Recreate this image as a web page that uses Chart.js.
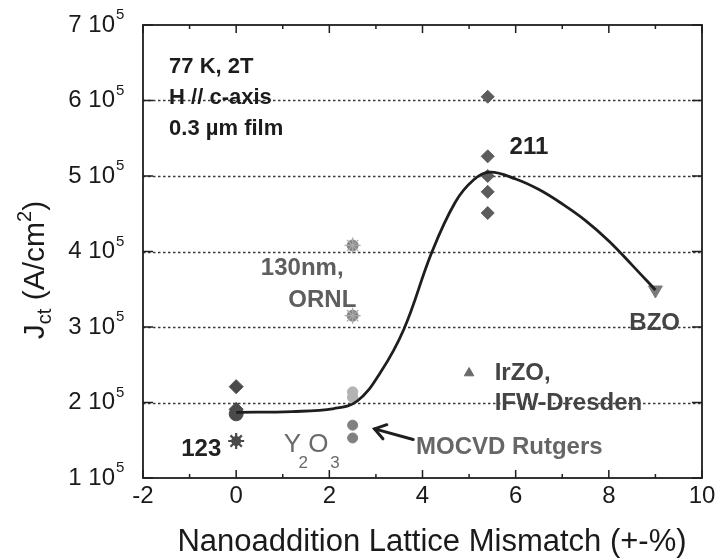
<!DOCTYPE html>
<html>
<head>
<meta charset="utf-8">
<script src="https://cdn.jsdelivr.net/npm/chart.js@4.4.0/dist/chart.umd.min.js"></script>
<style>
  html, body { margin: 0; padding: 0; background: #fff; }
  #wrap { width: 717px; height: 558px; }
</style>
</head>
<body>
<div id="wrap"><canvas id="c" width="717" height="558"></canvas></div>
<script>
// Jc (units of 10^5 A/cm^2) versus nanoaddition lattice mismatch (%)
const xTicks = [-2, 0, 2, 4, 6, 8, 10];
const yTicks = [1, 2, 3, 4, 5, 6, 7];
const UNIT = 1e5;

// guide-to-the-eye fit curve
const fitX = [0, 1.2, 2.1, 2.6, 3.1, 3.6, 4.2, 4.7, 5.1, 5.45, 6.0, 6.5, 7.0, 7.5, 8.0, 8.5, 9.0];
const fitY = [1.87, 1.88, 1.92, 2.02, 2.40, 2.97, 3.99, 4.65, 4.95, 5.05, 4.96, 4.82, 4.63, 4.41, 4.14, 3.82, 3.49];

// pure 123 films (0 % mismatch)
const pureX = 0;
const pureDiamonds = [2.21, 1.91];
const pureCircles = [1.85];
const pureStars = [1.49];

// Y2O3 additions (2.5 % mismatch)
const y2o3X = 2.5;
const ornlValues = [4.08, 3.15];
const y2o3Light = [2.07, 2.14];
const rutgersValues = [1.70, 1.53];

// 211 additions (5.4 % mismatch)
const x211 = 5.4;
const values211 = [6.05, 5.26, 5.00, 4.79, 4.51];

// BZO and IrZO
const bzoX = [9.0];
const bzoY = [3.49];
const irzoX = [5.0];
const irzoY = [2.39];

const pts = (xs, ys) => ys.map((y, i) => ({ x: Array.isArray(xs) ? xs[i] : xs, y: y * UNIT }));
const FONT = '"Liberation Sans", Arial, Helvetica, sans-serif';

const frameAndLabels = {
  id: 'frameAndLabels',
  beforeDatasetsDraw(chart) {
    const { ctx, chartArea: a, scales: { y } } = chart;
    ctx.save();
    ctx.strokeStyle = '#3a3a3a';
    ctx.lineWidth = 1.5;
    ctx.setLineDash([2.5, 2.5]);
    yTicks.forEach(v => {
      if (v === yTicks[0] || v === yTicks[yTicks.length - 1]) return;
      const py = Math.round(y.getPixelForValue(v * UNIT)) + 0.5;
      ctx.beginPath(); ctx.moveTo(a.left, py); ctx.lineTo(a.right, py); ctx.stroke();
    });
    ctx.restore();
  },
  afterDatasetsDraw(chart) {
    const { ctx, chartArea: a, scales: { x, y } } = chart;
    const X = v => x.getPixelForValue(v);
    const Y = v => y.getPixelForValue(v * UNIT);
    ctx.save();
    // frame
    ctx.strokeStyle = '#1e1e1e';
    ctx.lineWidth = 1.8;
    ctx.strokeRect(a.left, a.top, a.right - a.left, a.bottom - a.top);
    // x ticks (major even, minor odd), bottom and top, pointing inwards
    ctx.lineWidth = 1.5;
    for (let v = xTicks[0]; v <= xTicks[xTicks.length - 1]; v++) {
      const px = X(v);
      const len = (v % 2 === 0) ? 8 : 4;
      ctx.beginPath();
      ctx.moveTo(px, a.bottom); ctx.lineTo(px, a.bottom - len);
      ctx.moveTo(px, a.top); ctx.lineTo(px, a.top + len);
      ctx.stroke();
    }
    // y ticks left and right
    yTicks.forEach(v => {
      const py = Y(v);
      ctx.beginPath();
      ctx.moveTo(a.left, py); ctx.lineTo(a.left + 10, py);
      ctx.moveTo(a.right, py); ctx.lineTo(a.right - 10, py);
      ctx.stroke();
    });

    ctx.fillStyle = '#1a1a1a';
    // x tick labels
    ctx.font = `24px ${FONT}`;
    ctx.textAlign = 'center';
    ctx.textBaseline = 'top';
    xTicks.forEach(v => ctx.fillText(String(v), X(v), a.bottom + 6));
    // y tick labels "n 10^5"
    yTicks.forEach(v => {
      const py = Y(v);
      ctx.font = `24px ${FONT}`;
      ctx.textAlign = 'right';
      ctx.textBaseline = 'middle';
      ctx.fillText(`${v} 10`, a.left - 28, py);
      ctx.font = `15px ${FONT}`;
      ctx.textAlign = 'left';
      ctx.fillText('5', a.left - 27, py - 10);
    });

    // x axis title
    ctx.font = `31px ${FONT}`;
    ctx.textAlign = 'center';
    ctx.textBaseline = 'alphabetic';
    ctx.fillText('Nanoaddition Lattice Mismatch (+-%)', 432, 551);

    // y axis title, rotated
    ctx.save();
    ctx.translate(44, 270);
    ctx.rotate(-Math.PI / 2);
    const big = `30px ${FONT}`, small = `20px ${FONT}`;
    const parts = [
      { t: 'J', f: big, dy: 0 },
      { t: 'ct', f: small, dy: 7 },
      { t: ' (A/cm', f: big, dy: 0 },
      { t: '2', f: small, dy: -13 },
      { t: ')', f: big, dy: 0 }
    ];
    let total = 0;
    parts.forEach(p => { ctx.font = p.f; p.w = ctx.measureText(p.t).width; total += p.w; });
    let cx = -total / 2;
    ctx.textAlign = 'left';
    ctx.textBaseline = 'alphabetic';
    parts.forEach(p => { ctx.font = p.f; ctx.fillText(p.t, cx, p.dy); cx += p.w; });
    ctx.restore();

    // annotations
    const label = (t, xv, yv, font, color) => {
      ctx.font = font; ctx.fillStyle = color;
      ctx.textAlign = 'left'; ctx.textBaseline = 'middle';
      ctx.fillText(t, X(xv), Y(yv));
    };
    const boldL = `bold 22px ${FONT}`;
    label('77 K, 2T', -1.44, 6.45, boldL, '#1c1c1c');
    label('H // c-axis', -1.44, 6.04, boldL, '#1c1c1c');
    label('0.3 \u00b5m film', -1.44, 5.62, boldL, '#1c1c1c');
    label('211', 5.87, 5.38, `bold 24px ${FONT}`, '#222');
    label('123', -1.18, 1.38, `bold 24px ${FONT}`, '#222');
    label('130nm,', 0.53, 3.78, `bold 24px ${FONT}`, '#5e5e5e');
    label('ORNL', 1.12, 3.35, `bold 24px ${FONT}`, '#5e5e5e');
    label('BZO', 8.44, 3.05, `bold 24px ${FONT}`, '#444');
    label('IrZO,', 5.55, 2.38, `bold 24px ${FONT}`, '#444');
    label('IFW-Dresden', 5.55, 1.99, `bold 24px ${FONT}`, '#444');
    label('MOCVD Rutgers', 3.86, 1.40, `bold 24px ${FONT}`, '#666');
    // Y2O3 with subscripts
    label('Y', 1.02, 1.44, `26px ${FONT}`, '#6a6a6a');
    label('2', 1.34, 1.19, `17px ${FONT}`, '#6a6a6a');
    label('O', 1.55, 1.44, `26px ${FONT}`, '#6a6a6a');
    label('3', 2.02, 1.19, `17px ${FONT}`, '#6a6a6a');

    // arrow pointing at the Rutgers points
    const tipX = X(2.97), tipY = Y(1.65);
    const tailX = X(3.8), tailY = Y(1.51);
    ctx.strokeStyle = '#1e1e1e';
    ctx.lineWidth = 3;
    ctx.lineCap = 'round';
    ctx.beginPath(); ctx.moveTo(tailX, tailY); ctx.lineTo(tipX, tipY); ctx.stroke();
    const ang = Math.atan2(tipY - tailY, tipX - tailX);
    ctx.beginPath();
    ctx.moveTo(tipX - 13 * Math.cos(ang - 0.6), tipY - 13 * Math.sin(ang - 0.6));
    ctx.lineTo(tipX, tipY);
    ctx.lineTo(tipX - 13 * Math.cos(ang + 0.6), tipY - 13 * Math.sin(ang + 0.6));
    ctx.stroke();
    ctx.restore();
  }
};

const marker = (data, style, color, radius, extra = {}) => Object.assign({
  type: 'scatter', data, pointStyle: style, pointRadius: radius,
  pointBackgroundColor: color, pointBorderColor: color, pointBorderWidth: 1, order: 2
}, extra);

new Chart(document.getElementById('c'), {
  type: 'scatter',
  data: {
    datasets: [
      {
        type: 'line', data: pts(fitX, fitY), borderColor: '#1e1e1e', borderWidth: 2.8,
        pointRadius: 0, tension: 0.4, fill: false, order: 1
      },
      marker(pts(pureX, pureDiamonds), 'rectRot', '#4a4a4a', 7),
      marker(pts(pureX, pureCircles), 'circle', '#4a4a4a', 7),
      marker(pts(pureX, pureStars), 'circle', '#4a4a4a', 4.5),
      marker(pts(pureX, pureStars), 'star', '#4a4a4a', 8, { pointBorderWidth: 2.2 }),
      marker(pts(y2o3X, ornlValues), 'star', '#a8a8a8', 8, { pointBorderWidth: 1.2 }),
      marker(pts(y2o3X, ornlValues), 'circle', '#858585', 5.5),
      marker(pts(y2o3X, y2o3Light), 'circle', '#b3b3b3', 5.2),
      marker(pts(y2o3X, rutgersValues), 'circle', '#808080', 5),
      marker(pts(x211, values211), 'rectRot', '#5c5c5c', 6.5),
      marker(pts(bzoX, bzoY), 'triangle', '#7a7a7a', 8, { rotation: 180 }),
      marker(pts(irzoX, irzoY), 'triangle', '#6a6a6a', 5.5)
    ]
  },
  options: {
    responsive: false,
    animation: false,
    devicePixelRatio: 1,
    layout: { padding: { left: 143, right: 15, top: 25, bottom: 80 } },
    plugins: { legend: { display: false }, tooltip: { enabled: false } },
    scales: {
      x: { type: 'linear', min: -2, max: 10, display: false },
      y: { type: 'linear', min: 1 * UNIT, max: 7 * UNIT, display: false }
    }
  },
  plugins: [frameAndLabels]
});
</script>
</body>
</html>
